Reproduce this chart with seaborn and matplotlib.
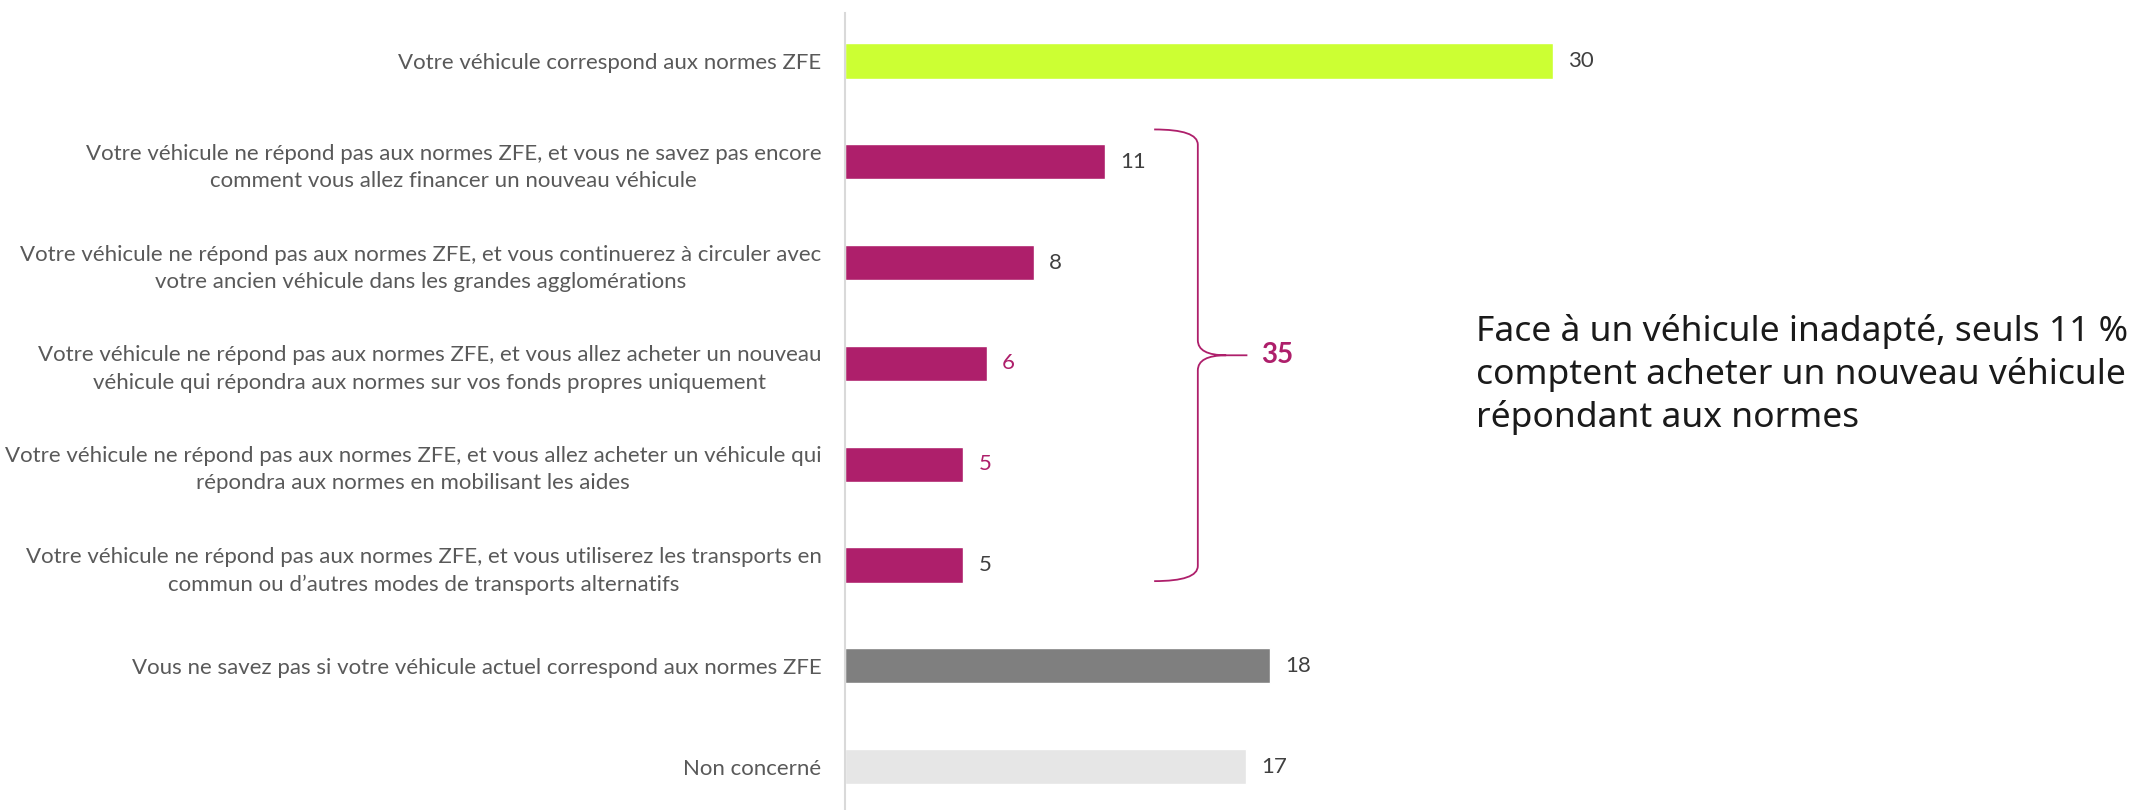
import numpy as np
import pandas as pd
import matplotlib
matplotlib.use("Agg")
import matplotlib.pyplot as plt
from matplotlib.path import Path
import matplotlib.patches as mpatches
import seaborn as sns

lime = '#CCFF33'
magenta = '#AE1F6B'
grey = '#7F7F7F'
light = '#E6E6E6'

labels = [
    "Votre véhicule correspond aux normes ZFE",
    "Votre véhicule ne répond pas aux normes ZFE, et vous ne savez pas encore\ncomment vous allez financer un nouveau véhicule",
    "Votre véhicule ne répond pas aux normes ZFE, et vous continuerez à circuler avec\nvotre ancien véhicule dans les grandes agglomérations",
    "Votre véhicule ne répond pas aux normes ZFE, et vous allez acheter un nouveau\nvéhicule qui répondra aux normes sur vos fonds propres uniquement",
    "Votre véhicule ne répond pas aux normes ZFE, et vous allez acheter un véhicule qui\nrépondra aux normes en mobilisant les aides",
    "Votre véhicule ne répond pas aux normes ZFE, et vous utiliserez les transports en\ncommun ou d’autres modes de transports alternatifs",
    "Vous ne savez pas si votre véhicule actuel correspond aux normes ZFE",
    "Non concerné",
]
values = [30, 11, 8, 6, 5, 5, 18, 17]
bar_colors = [lime, magenta, magenta, magenta, magenta, magenta, grey, light]
value_colors = ['#404040', '#404040', '#404040', magenta, magenta, '#404040', '#404040', '#404040']
group_idx = [1, 2, 3, 4, 5]
group_total = "35"
note = "Face à un véhicule inadapté, seuls 11 %\ncomptent acheter un nouveau véhicule\nrépondant aux normes"

sns.set_style("white")
plt.rcParams['font.family'] = ['Lato', 'DejaVu Sans']

df = pd.DataFrame({'label': labels, 'value': values})

fig = plt.figure(figsize=(21.39, 8.10), dpi=100)
ax = fig.add_axes([845 / 2139, 0.0, 944 / 2139, 1 - 13 / 810])

sns.barplot(data=df, x='value', y='label', hue='label', palette=bar_colors,
            legend=False, width=0.35, ax=ax, saturation=1, orient='h')

ax.set_xlim(0, 40)
ax.set_ylim(7.43, -0.475)
ax.set_xlabel('')
ax.set_ylabel('')
ax.set_xticks([])
sns.despine(ax=ax, top=True, right=True, bottom=True, left=False)
ax.spines['left'].set_color('#D9D9D9')
ax.spines['left'].set_linewidth(1.5)
ax.tick_params(axis='y', length=0, pad=17, labelsize=16, labelcolor='#595959')
for t in ax.get_yticklabels():
    t.set_multialignment('center')
    t.set_linespacing(1.45)

for i, v in enumerate(values):
    ax.text(v + 0.65, i, str(v), va='center', ha='left', fontsize=16,
            color=value_colors[i])

# curly brace around the "does not comply" group
top = group_idx[0] - 0.32
bot = group_idx[-1] + 0.16
mid = (top + bot) / 2
x0 = max(values[j] for j in group_idx) + 2.1
xv = x0 + 1.85
xp = xv + 2.1
c = 0.15
verts = [(x0, top), (xv, top), (xv, top + c),
         (xv, mid - c), (xv, mid), (xp - 0.9, mid),
         (xp, mid), (xp - 0.9, mid),
         (xv, mid), (xv, mid + c),
         (xv, bot - c), (xv, bot), (x0, bot)]
codes = [Path.MOVETO, Path.CURVE3, Path.CURVE3,
         Path.LINETO, Path.CURVE3, Path.CURVE3,
         Path.LINETO, Path.MOVETO,
         Path.CURVE3, Path.CURVE3,
         Path.LINETO, Path.CURVE3, Path.CURVE3]
brace = mpatches.PathPatch(Path(verts, codes), fill=False, edgecolor=magenta,
                           linewidth=1.3, capstyle='butt')
ax.add_patch(brace)
ax.text(xp + 0.6, mid, group_total, va='center', ha='left', fontsize=20,
        fontweight='bold', color=magenta)

fig.text(1476 / 2139, 1 - 314 / 810, note, va='top', ha='left', fontsize=25.5,
         color='#1A1A1A', linespacing=1.3, family=['Noto Sans', 'DejaVu Sans'])

fig.savefig('out.png', dpi=100)
